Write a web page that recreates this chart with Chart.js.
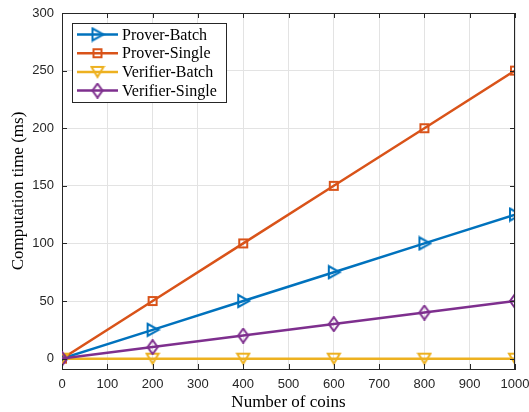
<!DOCTYPE html>
<html>
<head>
<meta charset="utf-8">
<script src="https://cdn.jsdelivr.net/npm/chart.js@4/dist/chart.umd.min.js"></script>
<style>
  html, body { margin: 0; padding: 0; background: #fff; }
  #wrap { width: 529px; height: 412px; }
</style>
</head>
<body>
<div id="wrap"><canvas id="myChart" width="529" height="412"></canvas></div>
<script>
// data
const coins = [0, 200, 400, 600, 800, 1000];
const proverBatch = [0, 25, 50, 75, 100, 125];
const proverSingle = [0, 50, 100, 150, 200, 250];
const verifierBatch = [0, 0, 0, 0, 0, 0];
const verifierSingle = [0, 10, 20, 30, 40, 50];
const seriesNames = ["Prover-Batch", "Prover-Single", "Verifier-Batch", "Verifier-Single"];
const xTicks = [0, 100, 200, 300, 400, 500, 600, 700, 800, 900, 1000];
const yTicks = [0, 50, 100, 150, 200, 250, 300];

const colors = ["#0072BD", "#D95319", "#EDB120", "#7E2F8E"];
const axisColor = "#262626";
const serif = "'Liberation Serif', 'DejaVu Serif', serif";
const sans = "'Liberation Sans', Arial, sans-serif";

// hollow marker images
function marker(kind, color) {
	const c = document.createElement("canvas");
	c.width = 16;
	c.height = 16;
	const g = c.getContext("2d");
	g.strokeStyle = color;
	g.lineWidth = 2;
	g.beginPath();
	if (kind === "right") {
		g.moveTo(3, 2); g.lineTo(14, 8); g.lineTo(3, 14);
	} else if (kind === "square") {
		g.moveTo(4, 4); g.lineTo(12, 4); g.lineTo(12, 12); g.lineTo(4, 12);
	} else if (kind === "down") {
		g.moveTo(2, 3); g.lineTo(14, 3); g.lineTo(8, 13);
	} else {
		g.moveTo(8, 1); g.lineTo(13, 8); g.lineTo(8, 15); g.lineTo(3, 8);
	}
	g.closePath();
	g.stroke();
	return c;
}
const markerKinds = ["right", "square", "down", "diamond"];
const markers = markerKinds.map((k, i) => marker(k, colors[i]));

const allValues = [proverBatch, proverSingle, verifierBatch, verifierSingle];
const datasets = allValues.map((vals, i) => ({
	label: seriesNames[i],
	data: coins.map((x, j) => ({ x: x, y: vals[j] })),
	borderColor: colors[i],
	backgroundColor: colors[i],
	borderWidth: 2.5,
	pointStyle: markers[i],
	pointRadius: 7,
	order: 3 - i,
}));

// box, inward ticks and legend, MATLAB style
const matlabBox = {
	id: "matlabBox",
	afterDatasetsDraw(chart) {
		const { ctx, chartArea: a, scales } = chart;
		ctx.save();
		ctx.strokeStyle = axisColor;
		ctx.lineWidth = 1;
		ctx.beginPath();
		ctx.moveTo(a.left, a.top + 0.5);
		ctx.lineTo(a.right, a.top + 0.5);
		ctx.moveTo(a.right - 0.5, a.top);
		ctx.lineTo(a.right - 0.5, a.bottom);
		for (const t of xTicks) {
			const px = Math.round(scales.x.getPixelForValue(t)) + 0.5;
			ctx.moveTo(px, a.bottom); ctx.lineTo(px, a.bottom - 5);
			ctx.moveTo(px, a.top); ctx.lineTo(px, a.top + 5);
		}
		for (const t of yTicks) {
			const py = Math.round(scales.y.getPixelForValue(t)) + 0.5;
			ctx.moveTo(a.left, py); ctx.lineTo(a.left + 5, py);
			ctx.moveTo(a.right, py); ctx.lineTo(a.right - 5, py);
		}
		ctx.stroke();

		// legend
		const lx = 72, ly = 23, lw = 154, lh = 79;
		ctx.fillStyle = "#fff";
		ctx.fillRect(lx, ly, lw, lh);
		ctx.strokeRect(lx + 0.5, ly + 0.5, lw, lh);
		ctx.font = "16px " + serif;
		ctx.textBaseline = "middle";
		for (let i = 0; i < seriesNames.length; i++) {
			const y = ly + 11.5 + i * 18.7;
			ctx.strokeStyle = colors[i];
			ctx.lineWidth = 2.5;
			ctx.beginPath();
			ctx.moveTo(lx + 5, y);
			ctx.lineTo(lx + 46, y);
			ctx.stroke();
			ctx.drawImage(markers[i], lx + 25.5 - 8, y - 8);
			ctx.fillStyle = "#000";
			ctx.fillText(seriesNames[i], lx + 50, y + 1);
		}
		ctx.restore();
	},
};

const ctx = document.getElementById("myChart").getContext("2d");
const myChart = new Chart(ctx, {
	type: "line",
	data: { datasets: datasets },
	options: {
		responsive: false,
		animation: false,
		layout: { padding: { left: 0, top: 13, right: 14, bottom: 0 } },
		plugins: { legend: { display: false }, tooltip: { enabled: false } },
		scales: {
			x: {
				type: "linear",
				min: 0,
				max: 1000,
				afterBuildTicks: (s) => { s.ticks = xTicks.map((v) => ({ value: v })); },
				afterFit: (s) => {
					s.height = 43;
					s.paddingLeft = 0;
					s.paddingRight = 0;
				},
				ticks: {
					color: axisColor,
					font: { family: sans, size: 13 },
					padding: 8,
					maxRotation: 0,
					callback: (v) => String(v),
				},
				grid: { color: "#e3e3e3", drawTicks: false },
				border: { color: axisColor, width: 1 },
				title: {
					display: true,
					text: "Number of coins",
					color: "#000",
					font: { family: serif, size: 17 },
					padding: { top: 0, bottom: -1 },
				},
			},
			y: {
				type: "linear",
				min: -9,
				max: 300,
				afterBuildTicks: (s) => { s.ticks = yTicks.map((v) => ({ value: v })); },
				afterFit: (s) => {
					s.width = 62;
					s.paddingTop = 0;
					s.paddingBottom = 0;
				},
				ticks: {
					color: axisColor,
					font: { family: sans, size: 13 },
					padding: 8,
					callback: (v) => String(v),
				},
				grid: { color: "#e3e3e3", drawTicks: false },
				border: { color: axisColor, width: 1 },
				title: {
					display: true,
					text: "Computation time (ms)",
					color: "#000",
					font: { family: serif, size: 17 },
					padding: { top: 8, bottom: 0 },
				},
			},
		},
	},
	plugins: [matlabBox],
});
</script>
</body>
</html>
